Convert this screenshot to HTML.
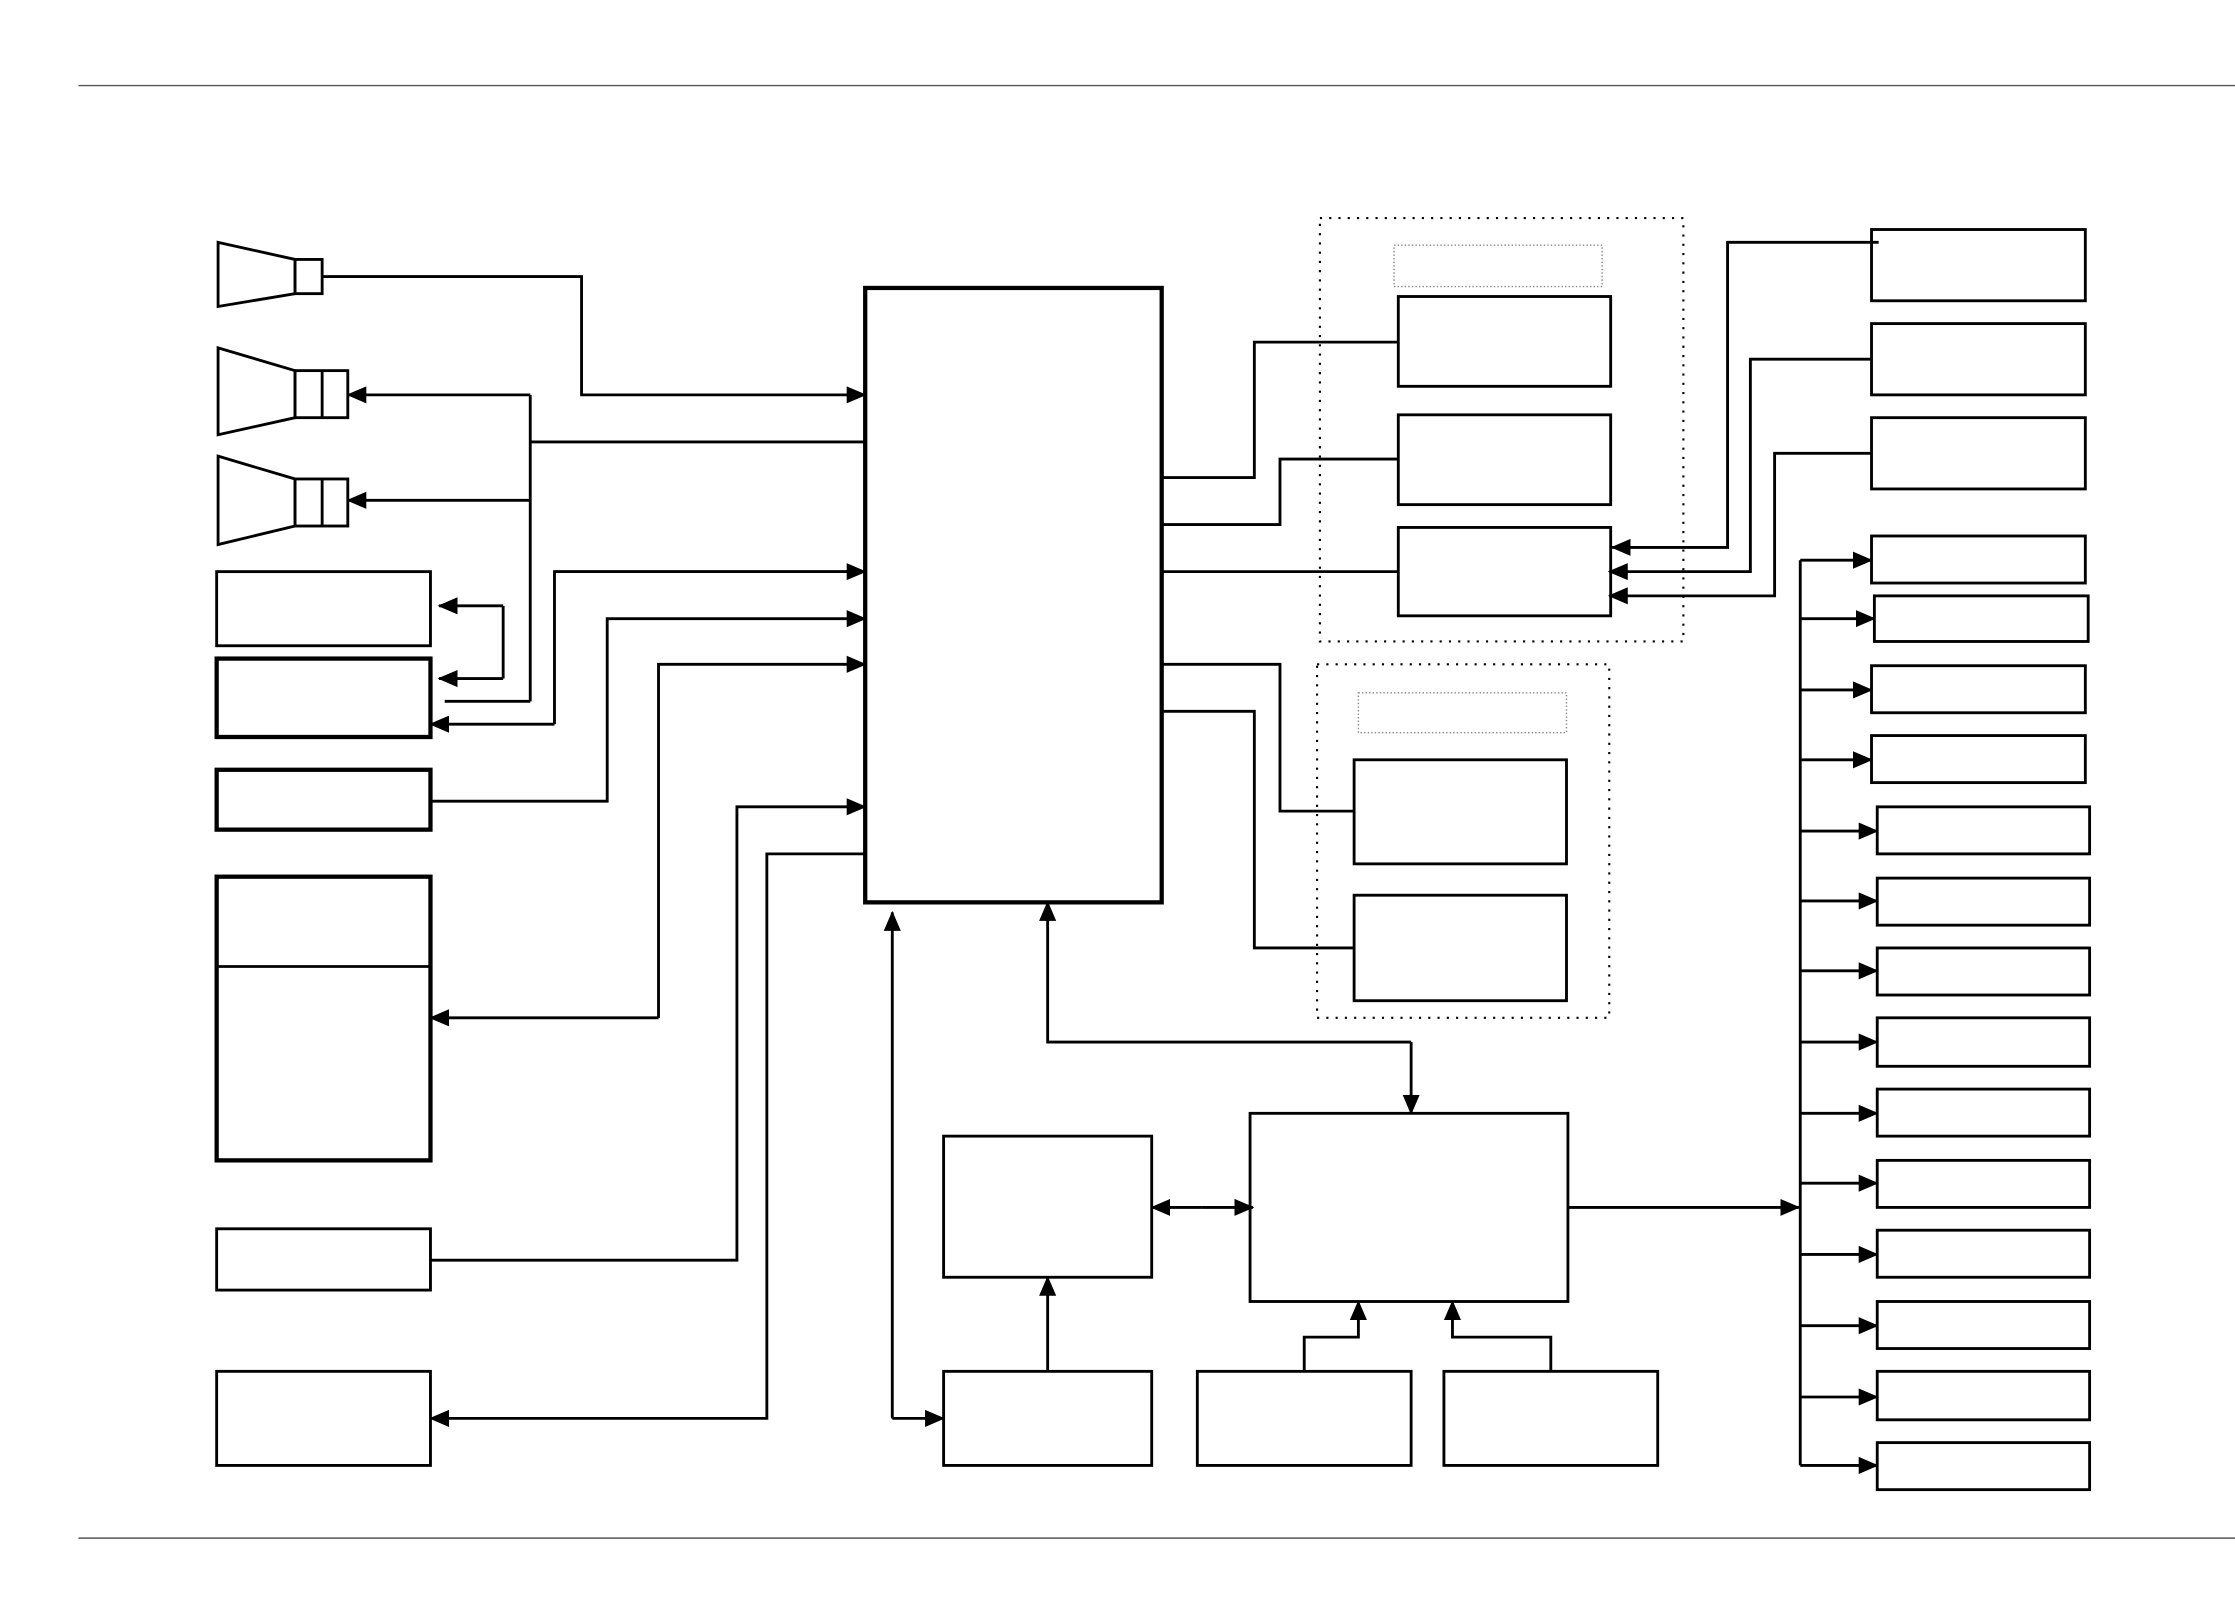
<!DOCTYPE html>
<html><head><meta charset="utf-8"><style>
html,body{margin:0;padding:0;background:#fff;}
svg{display:block;}
</style></head><body>
<svg width="2235" height="1598" viewBox="0 0 1568 1121" preserveAspectRatio="none" xmlns="http://www.w3.org/2000/svg">
<defs>
<marker id="a" markerUnits="userSpaceOnUse" markerWidth="14" markerHeight="14" refX="13" refY="7" orient="auto">
<polygon points="0,1 14,7 0,13" fill="#000"/>
</marker>
</defs>
<g stroke="#000" fill="none" stroke-width="2">
<line x1="55" y1="60" x2="1568" y2="60" stroke="#555" stroke-width="1"/>
<line x1="55" y1="1079" x2="1568" y2="1079" stroke="#555" stroke-width="1"/>
<!-- horns -->
<polygon points="153,170 207,182 207,206 153,215"/>
<rect x="207" y="182" width="19" height="24"/>
<polygon points="153,244 207,260 207,293 153,305"/>
<rect x="207" y="260" width="37" height="33"/><line x1="226" y1="260" x2="226" y2="293"/>
<polygon points="153,320 207,336 207,369 153,382"/>
<rect x="207" y="336" width="37" height="33"/><line x1="226" y1="336" x2="226" y2="369"/>
<!-- left boxes -->
<rect x="152" y="401" width="150" height="52"/>
<rect x="152" y="462" width="150" height="55" stroke-width="3"/>
<rect x="152" y="540" width="150" height="42" stroke-width="3"/>
<rect x="152" y="615" width="150" height="199" stroke-width="3"/>
<line x1="152" y1="678" x2="302" y2="678"/>
<rect x="152" y="862" width="150" height="43"/>
<rect x="152" y="962" width="150" height="66"/>
<!-- main -->
<rect x="607" y="202" width="208" height="431" stroke-width="3"/>
<!-- left connectors -->
<polyline points="226,194 408,194 408,277 607,277" marker-end="url(#a)"/>
<line x1="372" y1="277" x2="372" y2="492"/>
<line x1="372" y1="277" x2="244" y2="277" marker-end="url(#a)"/>
<line x1="372" y1="351" x2="244" y2="351" marker-end="url(#a)"/>
<line x1="372" y1="310" x2="607" y2="310"/>
<line x1="312" y1="492" x2="372" y2="492"/>
<line x1="353" y1="425" x2="353" y2="476"/>
<line x1="353" y1="425" x2="308" y2="425" marker-end="url(#a)"/>
<line x1="353" y1="476" x2="308" y2="476" marker-end="url(#a)"/>
<polyline points="607,401 389,401 389,508"/>
<line x1="389" y1="401" x2="607" y2="401" marker-end="url(#a)"/>
<line x1="389" y1="508" x2="302" y2="508" marker-end="url(#a)"/>
<polyline points="302,562 426,562 426,434 607,434" marker-end="url(#a)"/>
<polyline points="462,714 462,466 607,466" marker-end="url(#a)"/>
<line x1="462" y1="714" x2="302" y2="714" marker-end="url(#a)"/>
<polyline points="302,884 517,884 517,566 607,566" marker-end="url(#a)"/>
<polyline points="607,599 538,599 538,995 302,995" marker-end="url(#a)"/>
<line x1="626" y1="995" x2="626" y2="640" marker-end="url(#a)"/>
<line x1="626" y1="995" x2="662" y2="995" marker-end="url(#a)"/>
<polyline points="990,731 735,731 735,633" marker-end="url(#a)"/>
<line x1="990" y1="731" x2="990" y2="781" marker-end="url(#a)"/>
<!-- bottom boxes -->
<rect x="662" y="797" width="146" height="99"/>
<rect x="877" y="781" width="223" height="132"/>
<rect x="662" y="962" width="146" height="66"/>
<rect x="840" y="962" width="150" height="66"/>
<rect x="1013" y="962" width="150" height="66"/>
<line x1="843" y1="847" x2="808" y2="847" marker-end="url(#a)"/>
<line x1="843" y1="847" x2="879" y2="847" marker-end="url(#a)"/>
<line x1="735" y1="962" x2="735" y2="896" marker-end="url(#a)"/>
<polyline points="915,962 915,938 953,938 953,913" marker-end="url(#a)"/>
<polyline points="1088,962 1088,938 1019,938 1019,913" marker-end="url(#a)"/>
<line x1="1100" y1="847" x2="1262" y2="847" marker-end="url(#a)"/>
<!-- right column -->
<line x1="1263" y1="393" x2="1263" y2="1028"/>
<rect x="1313" y="376" width="150" height="33"/><line x1="1263" y1="393" x2="1313" y2="393" marker-end="url(#a)"/>
<rect x="1315" y="418" width="150" height="32"/><line x1="1263" y1="434" x2="1315" y2="434" marker-end="url(#a)"/>
<rect x="1313" y="467" width="150" height="33"/><line x1="1263" y1="484" x2="1313" y2="484" marker-end="url(#a)"/>
<rect x="1313" y="516" width="150" height="33"/><line x1="1263" y1="533" x2="1313" y2="533" marker-end="url(#a)"/>
<rect x="1317" y="566" width="149" height="33"/><line x1="1263" y1="583" x2="1317" y2="583" marker-end="url(#a)"/>
<rect x="1317" y="616" width="149" height="33"/><line x1="1263" y1="632" x2="1317" y2="632" marker-end="url(#a)"/>
<rect x="1317" y="665" width="149" height="33"/><line x1="1263" y1="681" x2="1317" y2="681" marker-end="url(#a)"/>
<rect x="1317" y="714" width="149" height="34"/><line x1="1263" y1="731" x2="1317" y2="731" marker-end="url(#a)"/>
<rect x="1317" y="764" width="149" height="33"/><line x1="1263" y1="781" x2="1317" y2="781" marker-end="url(#a)"/>
<rect x="1317" y="814" width="149" height="33"/><line x1="1263" y1="830" x2="1317" y2="830" marker-end="url(#a)"/>
<rect x="1317" y="863" width="149" height="33"/><line x1="1263" y1="880" x2="1317" y2="880" marker-end="url(#a)"/>
<rect x="1317" y="913" width="149" height="33"/><line x1="1263" y1="930" x2="1317" y2="930" marker-end="url(#a)"/>
<rect x="1317" y="962" width="149" height="34"/><line x1="1263" y1="980" x2="1317" y2="980" marker-end="url(#a)"/>
<rect x="1317" y="1012" width="149" height="33"/><line x1="1263" y1="1028" x2="1317" y2="1028" marker-end="url(#a)"/>
<!-- top right -->
<rect x="1313" y="161" width="150" height="50"/>
<rect x="1313" y="227" width="150" height="50"/>
<rect x="1313" y="293" width="150" height="50"/>
<polyline points="1318,170 1212,170 1212,384 1131,384" marker-end="url(#a)"/>
<polyline points="1313,252 1228,252 1228,401 1129,401" marker-end="url(#a)"/>
<polyline points="1313,318 1245,318 1245,418 1129,418" marker-end="url(#a)"/>
<!-- group 1 -->
<rect x="926" y="153" width="255" height="297" stroke-width="1.5" stroke-dasharray="1.5 5"/>
<rect x="978" y="172" width="146" height="29" stroke="#888" stroke-width="1" stroke-dasharray="1 1.5"/>
<rect x="981" y="208" width="149" height="63"/>
<rect x="981" y="291" width="149" height="63"/>
<rect x="981" y="370" width="149" height="62"/>
<polyline points="815,335 880,335 880,240 981,240"/>
<polyline points="815,368 898,368 898,322 981,322"/>
<line x1="815" y1="401" x2="981" y2="401"/>
<!-- group 2 -->
<rect x="924" y="466" width="205" height="248" stroke-width="1.5" stroke-dasharray="1.5 5"/>
<rect x="953" y="486" width="146" height="28" stroke="#888" stroke-width="1" stroke-dasharray="1 1.5"/>
<rect x="950" y="533" width="149" height="73"/>
<rect x="950" y="628" width="149" height="74"/>
<polyline points="815,466 898,466 898,569 950,569"/>
<polyline points="815,499 880,499 880,665 950,665"/>
</g>
</svg>
</body></html>
